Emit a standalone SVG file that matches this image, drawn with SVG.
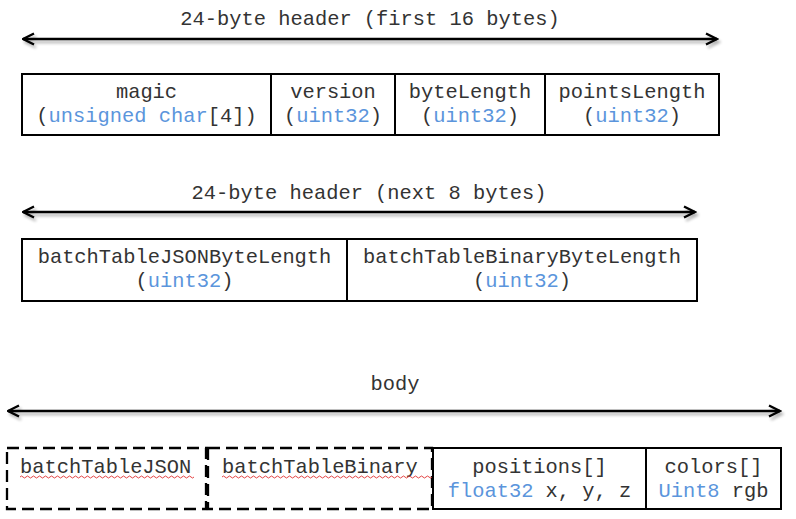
<svg xmlns="http://www.w3.org/2000/svg" width="796" height="519" viewBox="0 0 796 519">
  <style>
    text { font-family: "Liberation Mono", "Courier New", monospace; font-size: 20.4px; fill: #333; }
    .c { text-anchor: middle; }
    .t { fill: #5b95dc; }
    .cell { fill: #fff; stroke: #000; stroke-width: 2; }
    .dash { fill: none; stroke: #000; stroke-width: 2.3; stroke-dasharray: 12 6; }
    .span { fill: none; stroke: #000; stroke-width: 2.6; }
    .spell { fill: none; stroke: #e03030; stroke-width: 0.9; }
  </style>
  <defs>
    <marker id="open" viewBox="0 0 14 14" refX="12.5" refY="7" markerWidth="14" markerHeight="14" markerUnits="userSpaceOnUse" orient="auto-start-reverse">
      <path d="M1.5 1.5 L12.5 7 L1.5 12.5" fill="none" stroke="#000" stroke-width="2.4"/>
    </marker>
    <filter id="shadow" x="-5%" y="-100%" width="110%" height="300%">
      <feGaussianBlur in="SourceAlpha" stdDeviation="1.6"/>
      <feOffset dx="1.5" dy="2.5" result="b"/>
      <feComponentTransfer><feFuncA type="linear" slope="0.3"/></feComponentTransfer>
      <feMerge><feMergeNode/><feMergeNode in="SourceGraphic"/></feMerge>
    </filter>
  </defs>

  <!-- span arrows with their captions -->
  <g id="connectors" filter="url(#shadow)">
    <line class="span" x1="23" y1="39" x2="717" y2="39" marker-start="url(#open)" marker-end="url(#open)"/>
    <line class="span" x1="23" y1="212" x2="695" y2="212" marker-start="url(#open)" marker-end="url(#open)"/>
    <line class="span" x1="8" y1="411" x2="780" y2="411" marker-start="url(#open)" marker-end="url(#open)"/>
  </g>
  <g id="captions">
    <text class="c" x="370" y="25">24-byte header (first 16 bytes)</text>
    <text class="c" x="369" y="199">24-byte header (next 8 bytes)</text>
    <text class="c" x="395" y="390">body</text>
  </g>

  <!-- header, first 16 bytes -->
  <g id="magic">
    <rect class="cell" x="22" y="74" width="249" height="61"/>
    <text class="c" x="146.5" y="98">magic</text>
    <text class="c" x="146.5" y="122">(<tspan class="t">unsigned char</tspan>[4])</text>
  </g>
  <g id="version">
    <rect class="cell" x="271" y="74" width="124" height="61"/>
    <text class="c" x="333" y="98">version</text>
    <text class="c" x="333" y="122">(<tspan class="t">uint32</tspan>)</text>
  </g>
  <g id="byteLength">
    <rect class="cell" x="395" y="74" width="150" height="61"/>
    <text class="c" x="470" y="98">byteLength</text>
    <text class="c" x="470" y="122">(<tspan class="t">uint32</tspan>)</text>
  </g>
  <g id="pointsLength">
    <rect class="cell" x="545" y="74" width="174" height="61"/>
    <text class="c" x="632" y="98">pointsLength</text>
    <text class="c" x="632" y="122">(<tspan class="t">uint32</tspan>)</text>
  </g>

  <!-- header, next 8 bytes -->
  <g id="batchTableJSONByteLength">
    <rect class="cell" x="22" y="239" width="325" height="62"/>
    <text class="c" x="184.5" y="263">batchTableJSONByteLength</text>
    <text class="c" x="184.5" y="287">(<tspan class="t">uint32</tspan>)</text>
  </g>
  <g id="batchTableBinaryByteLength">
    <rect class="cell" x="347" y="239" width="350" height="62"/>
    <text class="c" x="522" y="263">batchTableBinaryByteLength</text>
    <text class="c" x="522" y="287">(<tspan class="t">uint32</tspan>)</text>
  </g>

  <!-- body -->
  <g id="batchTableJSON">
    <rect class="dash" x="7" y="448" width="199" height="61"/>
    <text x="20" y="473">batchTableJSON</text>
    <path class="spell" d="M20 477 q1.5 -2 3 0 t3 0 t3 0 t3 0 t3 0 t3 0 t3 0 t3 0 t3 0 t3 0 t3 0 t3 0 t3 0 t3 0 t3 0 t3 0 t3 0 t3 0 t3 0 t3 0 t3 0 t3 0 t3 0 t3 0 t3 0 t3 0 t3 0 t3 0 t3 0 t3 0 t3 0 t3 0 t3 0 t3 0 t3 0 t3 0 t3 0 t3 0 t3 0 t3 0 t3 0 t3 0 t3 0 t3 0 t3 0 t3 0 t3 0 t3 0 t3 0 t3 0 t3 0 t3 0 t3 0 t3 0 t3 0 t3 0 t3 0 t3 0"/>
  </g>
  <g id="batchTableBinary">
    <rect class="dash" x="208" y="448" width="224" height="61"/>
    <text x="222" y="473">batchTableBinary</text>
    <path class="spell" d="M222 477 q1.5 -2 3 0 t3 0 t3 0 t3 0 t3 0 t3 0 t3 0 t3 0 t3 0 t3 0 t3 0 t3 0 t3 0 t3 0 t3 0 t3 0 t3 0 t3 0 t3 0 t3 0 t3 0 t3 0 t3 0 t3 0 t3 0 t3 0 t3 0 t3 0 t3 0 t3 0 t3 0 t3 0 t3 0 t3 0 t3 0 t3 0 t3 0 t3 0 t3 0 t3 0 t3 0 t3 0 t3 0 t3 0 t3 0 t3 0 t3 0 t3 0 t3 0 t3 0 t3 0 t3 0 t3 0 t3 0 t3 0 t3 0 t3 0 t3 0 t3 0 t3 0 t3 0 t3 0 t3 0 t3 0 t3 0 t3 0 t3 0 t3 0 t3 0 t3 0 t3 0 t3 0"/>
  </g>
  <g id="positions">
    <rect class="cell" x="433" y="448" width="213" height="61"/>
    <text class="c" x="539.5" y="473">positions[]</text>
    <text class="c" x="539.5" y="497"><tspan class="t">float32</tspan> x, y, z</text>
  </g>
  <g id="colors">
    <rect class="cell" x="646" y="448" width="135" height="61"/>
    <text class="c" x="713.5" y="473">colors[]</text>
    <text class="c" x="713.5" y="497"><tspan class="t">Uint8</tspan> rgb</text>
  </g>
</svg>
